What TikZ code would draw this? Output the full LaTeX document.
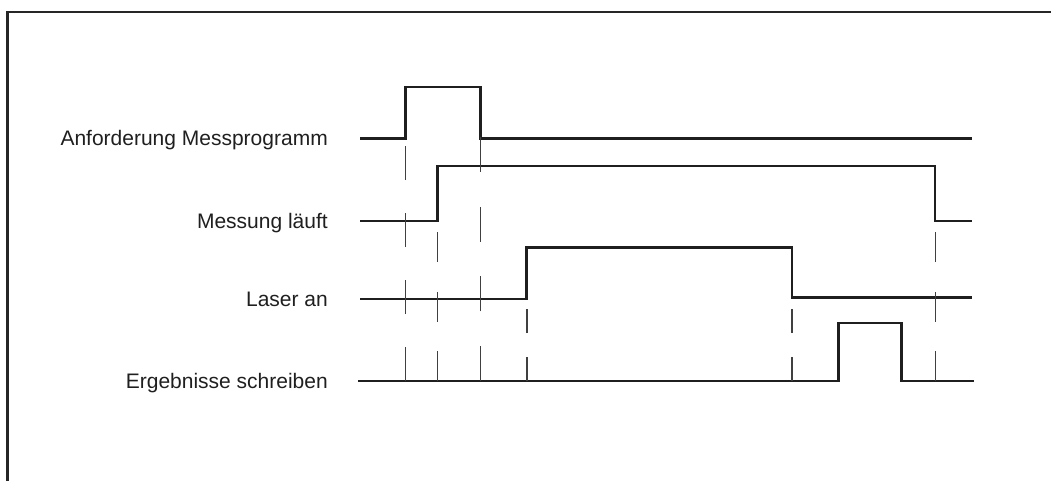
\documentclass[tikz,border=0pt]{standalone}
\usepackage{fontspec}
\setmainfont{Liberation Sans}
\begin{document}
\begin{tikzpicture}[x=1pt,y=-1pt,
  signal/.style={line width=2.8pt,color=black!88,line join=miter},
  marker/.style={line width=1.3pt,color=black!75},
  frameline/.style={line width=2.4pt,color=black!85},
  lbl/.style={anchor=base east,inner sep=0pt,font=\fontsize{21}{25}\selectfont,text=black!88}]
\useasboundingbox (0,0) rectangle (1051,481);
% frame
\coordinate (fbl) at (7.5,481);
\coordinate (ftl) at (7.5,12);
\coordinate (ftr) at (1051,12);
\draw[frameline] (fbl) -- (ftl) -- (ftr);
% labels
\node[lbl] (l1) at (328,145.5) {Anforderung Messprogramm};
\node[lbl] (l2) at (328,228.5) {Messung läuft};
\node[lbl] (l3) at (328,306) {Laser an};
\node[lbl] (l4) at (328,388) {Ergebnisse schreiben};
% signals
\draw[signal] (360,138.3) -- (405.3,138.3) -- (405.3,87) -- (480.7,87) -- (480.7,138.3) -- (972,138.3);
\draw[signal] (360,221) -- (437.3,221) -- (437.3,166) -- (935,166) -- (935,221) -- (972,221);
\draw[signal] (360,299) -- (526.7,299) -- (526.7,247.5) -- (792,247.5) -- (792,297.7) -- (972,297.7);
\draw[signal] (358,381) -- (838.7,381) -- (838.7,323) -- (901.7,323) -- (901.7,381) -- (974,381);
% markers
\coordinate (m1b) at (405.3,381); \coordinate (m1t) at (405.3,146);
\coordinate (m2b) at (437.3,381); \coordinate (m2t) at (437.3,232);
\coordinate (m3b) at (480.7,381); \coordinate (m3t) at (480.7,137);
\coordinate (m4b) at (527,381);   \coordinate (m4t) at (527,309);
\coordinate (m5b) at (792,381);   \coordinate (m5t) at (792,308.5);
\coordinate (m6b) at (935.5,381); \coordinate (m6t) at (935.5,232);
\draw[marker,dash pattern=on 34pt off 33pt] (m1b) -- (m1t);
\draw[marker,dash pattern=on 30pt off 29.5pt] (m2b) -- (m2t);
\draw[marker,dash pattern=on 35pt off 34.67pt] (m3b) -- (m3t);
\draw[marker,dash pattern=on 24pt off 24pt] (m4b) -- (m4t);
\draw[marker,dash pattern=on 24.5pt off 24pt] (m5b) -- (m5t);
\draw[marker,dash pattern=on 30pt off 29.5pt] (m6b) -- (m6t);
\end{tikzpicture}
\end{document}
